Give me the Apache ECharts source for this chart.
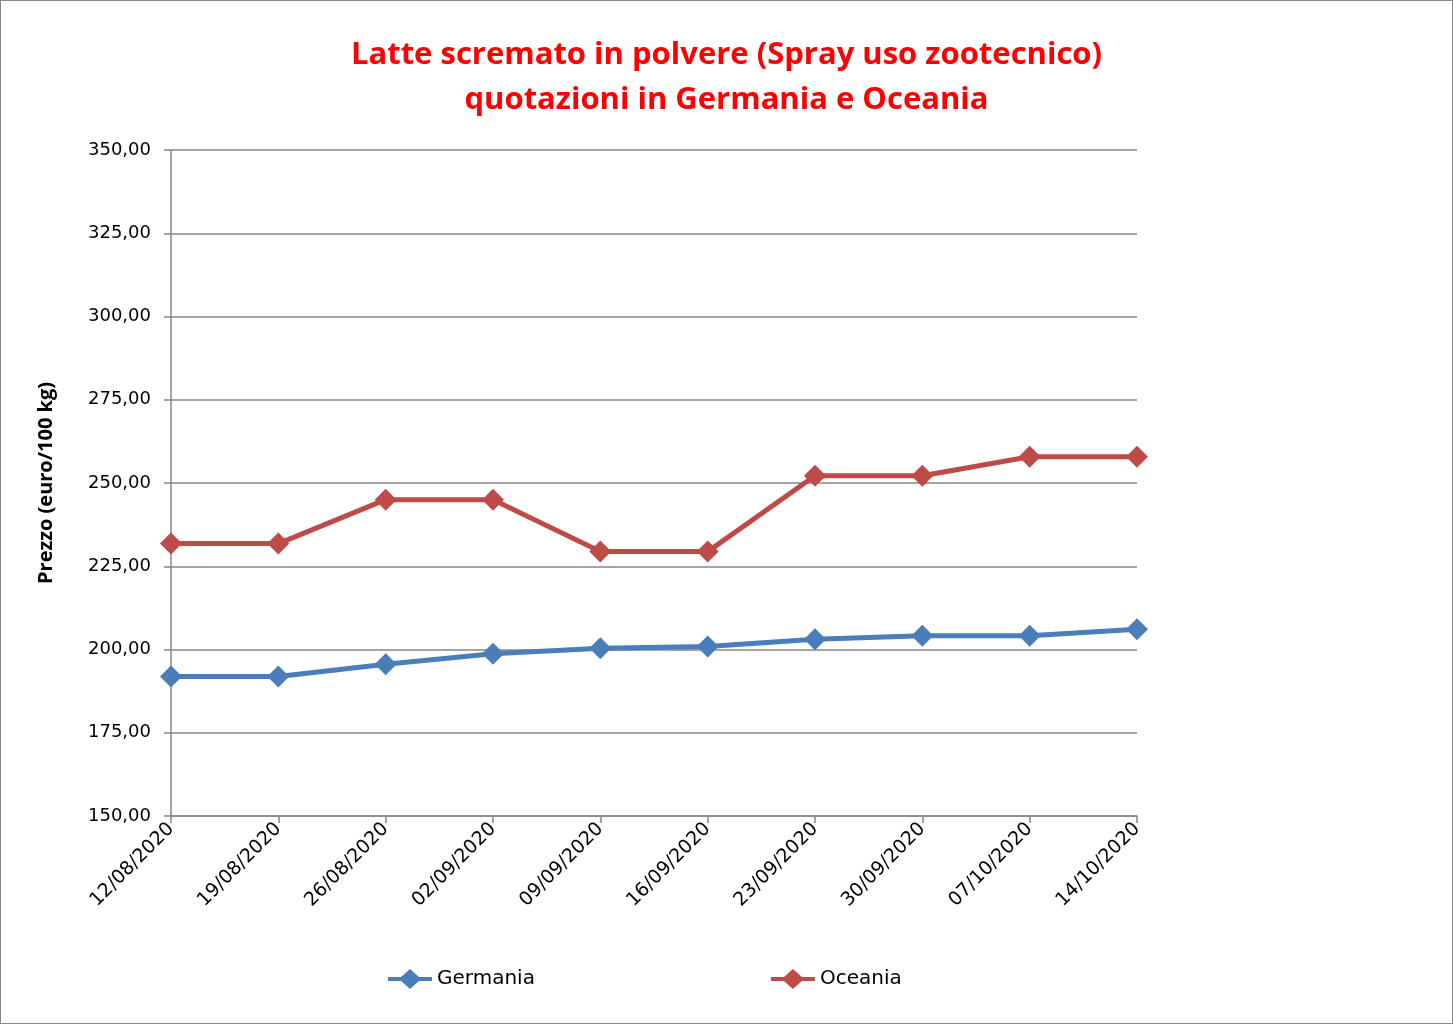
<!DOCTYPE html>
<html>
<head>
<meta charset="utf-8">
<script src="https://cdn.jsdelivr.net/npm/echarts@6/dist/echarts.min.js"></script>
<style>
html,body{margin:0;padding:0;background:#fff;}
#c{position:absolute;left:0;top:0;width:1451px;height:1022px;border:1px solid #868686;}
</style>
</head>
<body>
<div id="c"></div>
<script>
const categories = ['12/08/2020','19/08/2020','26/08/2020','02/09/2020','09/09/2020','16/09/2020','23/09/2020','30/09/2020','07/10/2020','14/10/2020'];
const germania = [191.9, 191.9, 195.6, 198.7, 200.4, 200.9, 203.1, 204.1, 204.1, 206.1];
const oceania = [231.8, 231.8, 245.0, 245.0, 229.4, 229.4, 252.2, 252.2, 257.9, 257.9];
const titleLines = ['Latte scremato in polvere (Spray uso zootecnico)', 'quotazioni in Germania e Oceania'];
const yName = 'Prezzo (euro/100 kg)';

const legendIcon = 'path://M0,8 L13,8 L22,0 L31,8 L44,8 L44,12 L31,12 L22,20 L13,12 L0,12 Z';

const chart = echarts.init(document.getElementById('c'));
const gray = '#868686';
chart.setOption({
  animation: false,
  title: {
    text: titleLines.join('\n'),
    left: 'center',
    top: 27,
    textStyle: { color: '#FF0000', fontSize: 31, fontWeight: 'bold', fontFamily: 'Open Sans', lineHeight: 45 }
  },
  grid: { left: 170, right: 315, top: 149, bottom: 207, containLabel: false },
  legend: {
    bottom: 29,
    left: 382,
    itemGap: 236,
    itemWidth: 44,
    itemHeight: 20,
    textStyle: { fontSize: 20, fontFamily: 'DejaVu Sans', color: '#000' },
    data: [
      { name: 'Germania', icon: legendIcon },
      { name: 'Oceania', icon: legendIcon }
    ]
  },
  xAxis: {
    type: 'category',
    data: categories,
    boundaryGap: false,
    axisLine: { lineStyle: { color: gray, width: 1.5 } },
    axisTick: { show: true, alignWithLabel: true, length: 7, lineStyle: { color: gray, width: 1.5 } },
    axisLabel: { rotate: 45, fontSize: 19, fontFamily: 'DejaVu Sans', color: '#000', margin: 10 }
  },
  yAxis: {
    type: 'value',
    min: 150, max: 350, interval: 25,
    name: yName,
    nameLocation: 'middle',
    nameRotate: 90,
    nameGap: 115,
    nameTextStyle: { fontSize: 20, fontWeight: 'bold', fontFamily: 'Open Sans', color: '#000' },
    axisLine: { show: true, lineStyle: { color: gray, width: 1.5 } },
    axisTick: { show: true, length: 7, lineStyle: { color: gray, width: 1.5 } },
    splitLine: { lineStyle: { color: gray, width: 1.5 } },
    axisLabel: {
      fontSize: 18, fontFamily: 'DejaVu Sans', color: '#000', margin: 20,
      formatter: v => v.toFixed(2).replace('.', ',')
    }
  },
  series: [
    {
      name: 'Germania', type: 'line', data: germania,
      symbol: 'diamond', symbolSize: 22,
      lineStyle: { color: '#4A7EBB', width: 5 },
      itemStyle: { color: '#4A7EBB' }
    },
    {
      name: 'Oceania', type: 'line', data: oceania,
      symbol: 'diamond', symbolSize: 22,
      lineStyle: { color: '#BE4B48', width: 5 },
      itemStyle: { color: '#BE4B48' }
    }
  ]
});
</script>
</body>
</html>
